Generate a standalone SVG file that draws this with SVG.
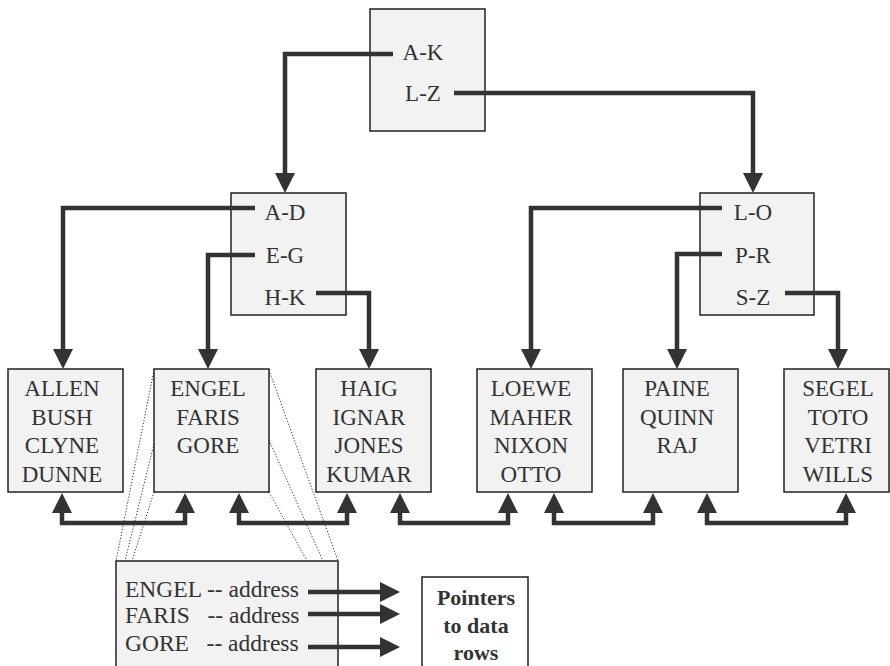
<svg xmlns="http://www.w3.org/2000/svg" width="890" height="666" viewBox="0 0 890 666">
<style>
.box{fill:#f2f2f2;stroke:#222;stroke-width:1.5}
.wbox{fill:#ffffff;stroke:#222;stroke-width:1.5}
text{font-size:23px;fill:#333}
.t{text-anchor:middle}
.tl{font-size:23.5px}
.tb{font-weight:bold;font-size:22px;text-anchor:middle}
.c{fill:none;stroke:#333;stroke-width:4.5;marker-end:url(#ah)}
.d{fill:none;stroke:#333;stroke-width:4.5;marker-start:url(#ah);marker-end:url(#ah)}
.dot{fill:none;stroke:#333;stroke-width:1;stroke-dasharray:1.2 1.8}
</style>
<defs>
<marker id="ah" markerUnits="userSpaceOnUse" markerWidth="20" markerHeight="20" refX="0" refY="10" orient="auto-start-reverse">
<path d="M0,0 L20,10 L0,20 z" fill="#333"/>
</marker>
</defs>
<g font-family="Liberation Serif, Times New Roman, serif">
<g id="root">
<rect class="box" x="370" y="9" width="115" height="122"/>
<text class="t" x="423" y="60">A-K</text>
<text class="t" x="423" y="101">L-Z</text>
</g>
<g id="node-ak">
<rect class="box" x="231" y="193" width="115" height="122"/>
<text class="t" x="285" y="220">A-D</text>
<text class="t" x="285" y="263">E-G</text>
<text class="t" x="285" y="305">H-K</text>
</g>
<g id="node-lz">
<rect class="box" x="700" y="193" width="114" height="122"/>
<text class="t" x="753" y="220">L-O</text>
<text class="t" x="753" y="263">P-R</text>
<text class="t" x="753" y="305">S-Z</text>
</g>
<g id="leaf-ad">
<rect class="box" x="8" y="369" width="115" height="123"/>
<text class="t" x="62" y="396">ALLEN</text>
<text class="t" x="62" y="425">BUSH</text>
<text class="t" x="62" y="453">CLYNE</text>
<text class="t" x="62" y="482">DUNNE</text>
</g>
<g id="leaf-eg">
<rect class="box" x="154" y="369" width="115" height="123"/>
<text class="t" x="208" y="396">ENGEL</text>
<text class="t" x="208" y="425">FARIS</text>
<text class="t" x="208" y="453">GORE</text>
</g>
<g id="leaf-hk">
<rect class="box" x="316" y="369" width="115" height="123"/>
<text class="t" x="369" y="396">HAIG</text>
<text class="t" x="369" y="425">IGNAR</text>
<text class="t" x="369" y="453">JONES</text>
<text class="t" x="369" y="482">KUMAR</text>
</g>
<g id="leaf-lo">
<rect class="box" x="477" y="369" width="115" height="123"/>
<text class="t" x="531" y="396">LOEWE</text>
<text class="t" x="531" y="425">MAHER</text>
<text class="t" x="531" y="453">NIXON</text>
<text class="t" x="531" y="482">OTTO</text>
</g>
<g id="leaf-pr">
<rect class="box" x="623" y="369" width="115" height="123"/>
<text class="t" x="677" y="396">PAINE</text>
<text class="t" x="677" y="425">QUINN</text>
<text class="t" x="677" y="453">RAJ</text>
</g>
<g id="leaf-sz">
<rect class="box" x="784" y="369" width="105" height="123"/>
<text class="t" x="838" y="396">SEGEL</text>
<text class="t" x="838" y="425">TOTO</text>
<text class="t" x="838" y="453">VETRI</text>
<text class="t" x="838" y="482">WILLS</text>
</g>
<g id="detail">
<rect class="box" x="116" y="561" width="222" height="120"/>
<text class="tl" x="125" y="597" xml:space="preserve">ENGEL -- address</text>
<text class="tl" x="125" y="623" xml:space="preserve">FARIS   -- address</text>
<text class="tl" x="125" y="651" xml:space="preserve">GORE   -- address</text>
</g>
<g id="pointers">
<rect class="wbox" x="422" y="577" width="106" height="100"/>
<text class="tb" x="476" y="605">Pointers</text>
<text class="tb" x="476" y="633">to data</text>
<text class="tb" x="476" y="660">rows</text>
</g>
</g>
<g id="connectors">
<path class="c" d="M393,54 H285 V173"/>
<path class="c" d="M454,93 H753 V173"/>
<path class="c" d="M255,208 H63 V349"/>
<path class="c" d="M255,255 H208 V349"/>
<path class="c" d="M316,293 H369 V349"/>
<path class="c" d="M722,208 H531 V349"/>
<path class="c" d="M722,254 H677 V349"/>
<path class="c" d="M785,293 H838 V349"/>
<path class="d" d="M62,513 V523 H185 V513"/>
<path class="d" d="M239,513 V523 H347 V513"/>
<path class="d" d="M400,513 V523 H508 V513"/>
<path class="d" d="M554,513 V523 H653 V513"/>
<path class="d" d="M707,513 V523 H846 V513"/>
<path class="c" d="M308,592 H380"/>
<path class="c" d="M308,614 H380"/>
<path class="c" d="M308,647 H380"/>
<path class="dot" d="M154,370 L116,561"/>
<path class="dot" d="M154,444 L125,561"/>
<path class="dot" d="M154,492 L132,561"/>
<path class="dot" d="M269,370 L338,561"/>
<path class="dot" d="M269,440 L323,561"/>
<path class="dot" d="M269,492 L307,561"/>
</g>
</svg>
